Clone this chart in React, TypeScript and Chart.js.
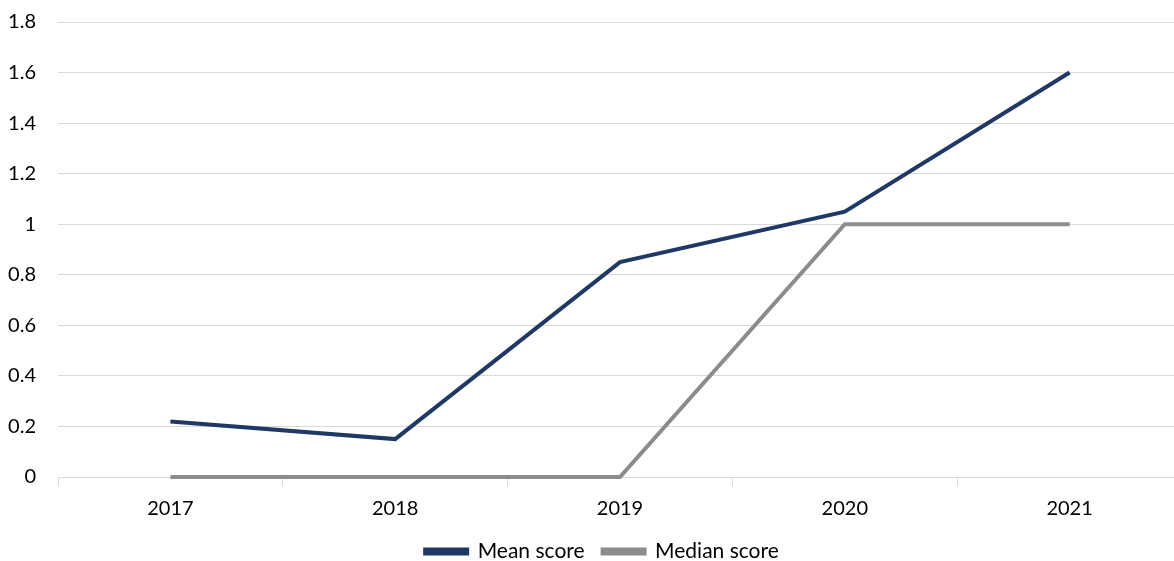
import React, { useEffect, useRef } from "react";
import { Chart, registerables } from "chart.js";

Chart.register(...registerables);

const years = ["2017", "2018", "2019", "2020", "2021"];
const meanScore = [0.22, 0.15, 0.85, 1.05, 1.6];
const medianScore = [0, 0, 0, 1, 1];
const yTicks = [0, 0.2, 0.4, 0.6, 0.8, 1, 1.2, 1.4, 1.6, 1.8];

const FONT = "Lato, 'Open Sans', sans-serif";

const shiftLegend = {
  id: "shiftLegend",
  afterLayout(chart: any) {
    if (chart.legend) {
      chart.legend.left += 11;
      chart.legend.right += 11;
    }
  },
};

export default function App() {
  const ref = useRef<HTMLCanvasElement | null>(null);
  useEffect(() => {
    document.body.style.margin = "0";
    if (!ref.current) return;
    const chart = new Chart(ref.current, {
      type: "line",
      data: {
        labels: years,
        datasets: [
          {
            label: "Mean score",
            data: meanScore,
            borderColor: "#203864",
            backgroundColor: "#203864",
            borderWidth: 4,
            pointRadius: 0,
            tension: 0,
            clip: false,
          },
          {
            label: "Median score",
            data: medianScore,
            borderColor: "#8c8c8c",
            backgroundColor: "#8c8c8c",
            borderWidth: 4,
            pointRadius: 0,
            tension: 0,
            clip: false,
          },
        ],
      },
      plugins: [shiftLegend],
      options: {
        animation: false,
        responsive: false,
        maintainAspectRatio: false,
        layout: { padding: { top: 22, right: 22, left: 0, bottom: -11 } },
        plugins: {
          tooltip: { enabled: false },
          legend: {
            position: "bottom",
            labels: {
              font: { family: FONT, size: 21 },
              color: "#000",
              boxWidth: 42,
              boxHeight: 4,
              padding: 18,
            },
          },
        },
        scales: {
          x: {
            offset: true,
            afterFit: (axis: any) => {
              axis.height = 46;
            },
            grid: {
              offset: true,
              drawOnChartArea: false,
              drawTicks: true,
              tickLength: 9,
              color: "#d9d9d9",
            },
            border: { display: true, color: "#d9d9d9" },
            ticks: {
              font: { family: FONT, size: 20 },
              color: "#000",
              padding: 11,
            },
          },
          y: {
            min: 0,
            max: 1.8,
            afterBuildTicks: (axis: any) => {
              axis.ticks = yTicks.map((v) => ({ value: v }));
            },
            afterFit: (axis: any) => {
              axis.width = 58;
              axis.paddingTop = 0;
              axis.paddingBottom = 0;
            },
            grid: { color: "#d9d9d9", drawTicks: false },
            border: { display: false },
            ticks: {
              font: { family: FONT, size: 20 },
              color: "#000",
              padding: 22,
              callback: (v: any) => String(Math.round(Number(v) * 10) / 10),
            },
          },
        },
      },
    });
    return () => chart.destroy();
  }, []);
  return (
    <div style={{ width: 1174, height: 561, overflow: "hidden", position: "relative" }}>
      <canvas ref={ref} width={1204} height={561} style={{ display: "block" }} />
    </div>
  );
}
